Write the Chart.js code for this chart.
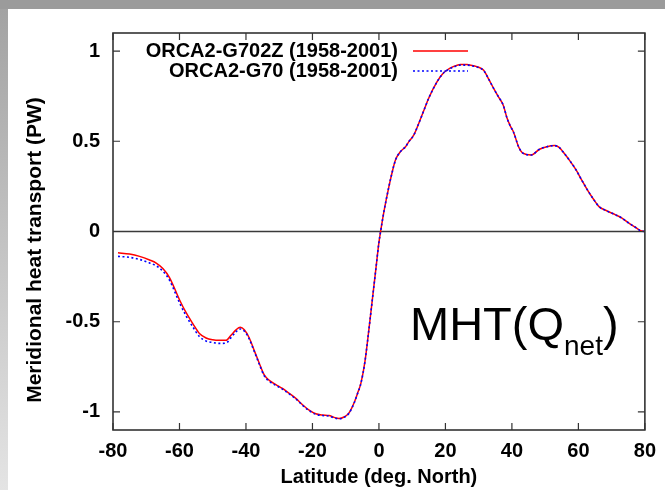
<!DOCTYPE html>
<html>
<head>
<meta charset="utf-8">
<script src="https://cdn.jsdelivr.net/npm/chart.js"></script>
<style>
  html, body { margin: 0; padding: 0; }
  body { width: 665px; height: 490px; position: relative; overflow: hidden; background: #fff; }
  #topbar { position: absolute; left: 0; top: 0; width: 665px; height: 9px; background: #9b9b9b; }
  #sidebar { position: absolute; left: 0; top: 9px; width: 8px; height: 481px; background: linear-gradient(#a3a3a3, #e4e4e4); }
  #wrap { position: absolute; left: 0; top: 0; width: 665px; height: 490px; }
</style>
</head>
<body>
<div id="topbar"></div>
<div id="sidebar"></div>
<div id="wrap"><canvas id="mhtChart" width="665" height="490"></canvas></div>
<script>
// latitude (deg N) of the sampled points
const latitudes = [
  -78.5, -75, -72, -69, -67, -65, -63, -60, -58, -56, -54, -52, -50, -48, -46,
  -44.5, -43, -41.7, -40.5, -39, -37.5, -36, -34.5, -33, -31, -29, -27, -25, -23,
  -21, -19, -17, -15, -13.5, -12, -10.5, -9, -7.5, -6.5, -5.4, -4.2, -3, -2, -1,
  0, 0.5, 1.5, 3, 4, 5, 6.5, 8, 9, 10.5, 12, 13.5, 15, 17.5, 19, 20.5, 22.5, 24.5,
  26.5, 28.5, 30, 31.5, 33, 34.5, 36, 37.4, 38.5, 39.5, 40.5, 42, 43.3, 45.8, 48.3,
  50.5, 52.8, 54.3, 55.3, 57.5, 59.3, 61, 62.7, 64.5, 66.2, 68.5, 71.2, 73, 75.2,
  77, 78.7, 80
];

// ORCA2-G702Z (1958-2001), PW
const mhtG702Z = [
  -0.118, -0.125, -0.138, -0.158, -0.175, -0.205, -0.255, -0.378, -0.45, -0.51, -0.565, -0.59, -0.60, -0.603, -0.603,
  -0.575, -0.545, -0.531, -0.545, -0.59, -0.66, -0.73, -0.795, -0.825, -0.848, -0.87, -0.897, -0.925, -0.96,
  -0.99, -1.01, -1.017, -1.02, -1.03, -1.036, -1.028, -1.005, -0.95, -0.9, -0.839, -0.72, -0.54, -0.38, -0.22,
  -0.06, 0, 0.11, 0.249, 0.33, 0.397, 0.443, 0.47, 0.498, 0.535, 0.60, 0.67, 0.74, 0.83, 0.87, 0.895, 0.915, 0.926,
  0.925, 0.918, 0.91, 0.894, 0.845, 0.793, 0.745, 0.70, 0.63, 0.585, 0.55, 0.47, 0.434, 0.424, 0.456,
  0.47, 0.476, 0.465, 0.443, 0.39, 0.341, 0.285, 0.231, 0.18, 0.138, 0.115, 0.092, 0.075, 0.046,
  0.025, 0.004, 0
];

// ORCA2-G70 (1958-2001), PW
const mhtG70 = [
  -0.138, -0.143, -0.155, -0.174, -0.19, -0.22, -0.27, -0.395, -0.468, -0.528, -0.582, -0.607, -0.615, -0.62, -0.618,
  -0.588, -0.556, -0.54, -0.552, -0.596, -0.665, -0.735, -0.8, -0.83, -0.853, -0.874, -0.9, -0.928, -0.963,
  -0.993, -1.013, -1.02, -1.023, -1.033, -1.038, -1.03, -1.007, -0.952, -0.902, -0.84, -0.72, -0.54, -0.38, -0.22,
  -0.06, 0, 0.11, 0.249, 0.33, 0.397, 0.443, 0.47, 0.498, 0.535, 0.60, 0.67, 0.74, 0.83, 0.87, 0.893, 0.912, 0.922,
  0.922, 0.916, 0.908, 0.892, 0.845, 0.793, 0.745, 0.70, 0.63, 0.585, 0.55, 0.47, 0.434, 0.424, 0.456,
  0.47, 0.476, 0.465, 0.443, 0.39, 0.341, 0.285, 0.231, 0.18, 0.138, 0.115, 0.092, 0.075, 0.046,
  0.025, 0.004, 0
];

const xTickValues = [-80, -60, -40, -20, 0, 20, 40, 60, 80];
const yTickValues = [-1, -0.5, 0, 0.5, 1];

const FONT = "'Liberation Sans', Arial, Helvetica, sans-serif";

function toPoints(xs, ys) {
  return xs.map((x, i) => ({ x: x, y: ys[i] }));
}

// frame, inward ticks, zero line, legend, annotation
const gnuplotLook = {
  id: 'gnuplotLook',
  beforeDatasetsDraw(chart) {
    const { ctx, chartArea: a, scales: { y } } = chart;
    ctx.save();
    ctx.strokeStyle = '#3a3a3a';
    ctx.lineWidth = 1.5;
    const y0 = y.getPixelForValue(0);
    ctx.beginPath();
    ctx.moveTo(a.left, y0);
    ctx.lineTo(a.right, y0);
    ctx.stroke();
    ctx.restore();
  },
  afterDatasetsDraw(chart) {
    const { ctx, chartArea: a, scales: { x, y } } = chart;
    ctx.save();
    ctx.strokeStyle = '#333';
    ctx.lineWidth = 1.6;
    ctx.strokeRect(a.left, a.top, a.right - a.left, a.bottom - a.top);
    const tl = 7;
    ctx.lineWidth = 1.2;
    ctx.beginPath();
    yTickValues.forEach(v => {
      const py = y.getPixelForValue(v);
      ctx.moveTo(a.left, py); ctx.lineTo(a.left + tl, py);
      ctx.moveTo(a.right, py); ctx.lineTo(a.right - tl, py);
    });
    xTickValues.forEach(v => {
      const px = x.getPixelForValue(v);
      ctx.moveTo(px, a.bottom); ctx.lineTo(px, a.bottom - tl);
      ctx.moveTo(px, a.top); ctx.lineTo(px, a.top + tl);
    });
    ctx.stroke();

    // legend, top left inside the frame
    ctx.font = 'bold 20px ' + FONT;
    ctx.fillStyle = '#000';
    ctx.textAlign = 'right';
    ctx.textBaseline = 'middle';
    const legendOrder = [1, 0];
    legendOrder.forEach((di, row) => {
      const ds = chart.data.datasets[di];
      const ly = 51 + row * 20;
      ctx.fillText(ds.label, 398, ly);
      ctx.strokeStyle = ds.borderColor;
      ctx.lineWidth = ds.borderWidth;
      ctx.setLineDash(ds.borderDash || []);
      ctx.beginPath();
      ctx.moveTo(413, ly);
      ctx.lineTo(468, ly);
      ctx.stroke();
      ctx.setLineDash([]);
    });

    // y axis title
    ctx.save();
    ctx.translate(35, 250);
    ctx.rotate(-Math.PI / 2);
    ctx.textAlign = 'center';
    ctx.textBaseline = 'middle';
    ctx.font = 'bold 21px ' + FONT;
    ctx.fillText('Meridional heat transport (PW)', 0, 0);
    ctx.restore();

    // MHT(Q_net) annotation
    ctx.textAlign = 'left';
    ctx.textBaseline = 'alphabetic';
    ctx.font = '47px ' + FONT;
    let tx = 410;
    ctx.fillText('MHT(Q', tx, 340);
    tx += ctx.measureText('MHT(Q').width;
    ctx.font = '28px ' + FONT;
    ctx.fillText('net', tx, 355);
    tx += ctx.measureText('net').width;
    ctx.font = '47px ' + FONT;
    ctx.fillText(')', tx, 340);
    ctx.restore();
  }
};

new Chart(document.getElementById('mhtChart'), {
  type: 'line',
  data: {
    datasets: [
      {
        label: 'ORCA2-G70 (1958-2001)',
        data: toPoints(latitudes, mhtG70),
        borderColor: '#0000ff',
        borderWidth: 1.6,
        borderDash: [2, 2.5],
        pointRadius: 0,
        cubicInterpolationMode: 'monotone',
        fill: false,
        order: 0
      },
      {
        label: 'ORCA2-G702Z (1958-2001)',
        data: toPoints(latitudes, mhtG702Z),
        borderColor: '#ff0000',
        borderWidth: 1.5,
        pointRadius: 0,
        cubicInterpolationMode: 'monotone',
        fill: false,
        order: 1
      }
    ]
  },
  options: {
    responsive: false,
    animation: false,
    devicePixelRatio: 1,
    layout: { padding: { left: 0, top: 33, right: 16, bottom: 0 } },
    plugins: { legend: { display: false }, tooltip: { enabled: false } },
    scales: {
      x: {
        type: 'linear',
        min: -80,
        max: 80,
        afterFit: s => { s.height = 60; },
        afterBuildTicks: s => { s.ticks = xTickValues.map(v => ({ value: v })); },
        grid: { display: false, drawTicks: false },
        border: { display: false },
        ticks: {
          padding: 9,
          color: '#000',
          font: { family: FONT, size: 20, weight: 'bold' },
          callback: v => String(v)
        },
        title: {
          display: true,
          text: 'Latitude (deg. North)',
          color: '#000',
          font: { family: FONT, size: 20, weight: 'bold' },
          padding: { top: 0, bottom: 1 }
        }
      },
      y: {
        type: 'linear',
        min: -1.1,
        max: 1.1,
        afterFit: s => { s.width = 113; },
        afterBuildTicks: s => { s.ticks = yTickValues.map(v => ({ value: v })); },
        grid: { display: false, drawTicks: false },
        border: { display: false },
        ticks: {
          padding: 13,
          color: '#000',
          font: { family: FONT, size: 20, weight: 'bold' },
          callback: v => String(v)
        }
      }
    }
  },
  plugins: [gnuplotLook]
});
</script>
</body>
</html>
